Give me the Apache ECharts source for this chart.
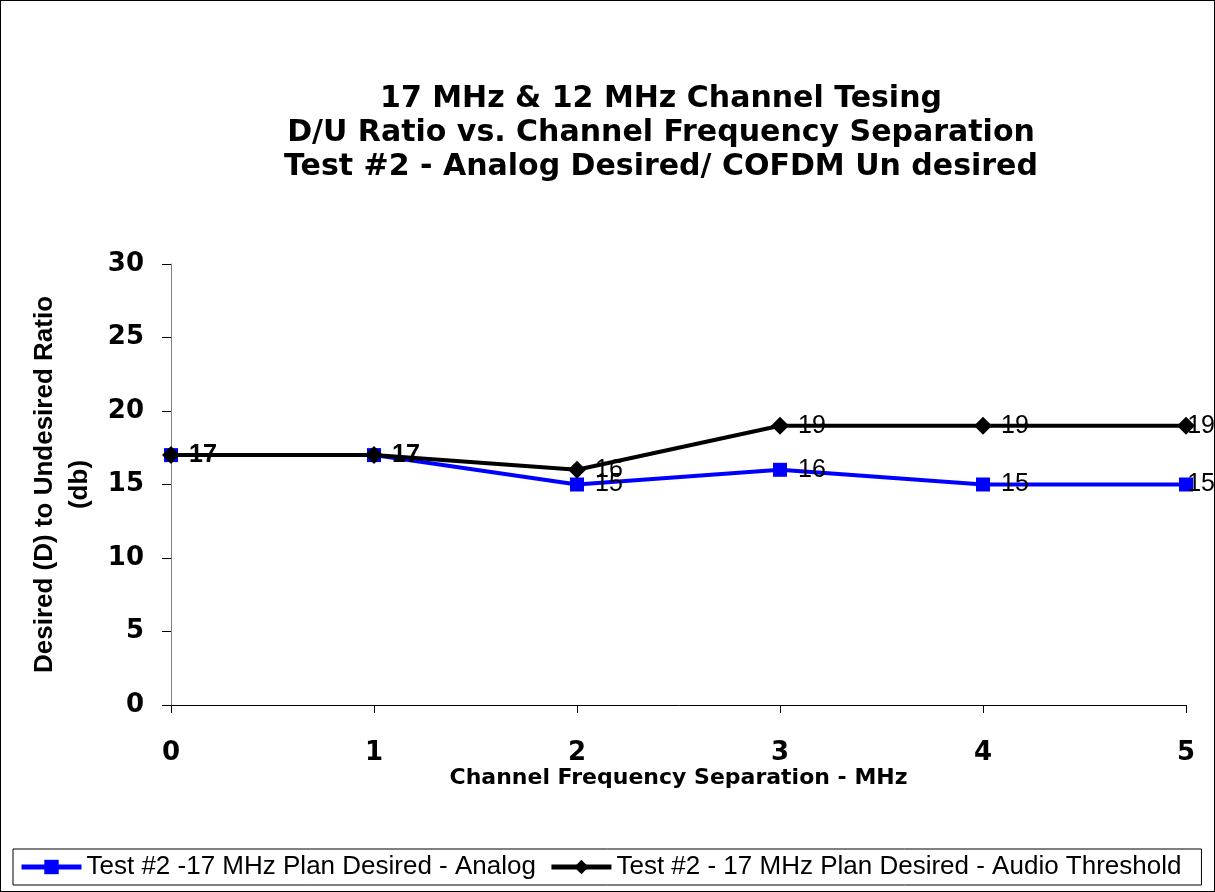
<!DOCTYPE html>
<html><head><meta charset="utf-8">
<script src="https://cdn.jsdelivr.net/npm/echarts@6/dist/echarts.min.js"></script>
<style>html,body{margin:0;padding:0;background:#fff}#c{width:1215px;height:892px;box-sizing:border-box;border:1px solid #000}</style>
</head><body><div id="c"></div>
<script>
const separations = [0, 1, 2, 3, 4, 5];
const analogValues = [17, 17, 15, 16, 15, 15];
const audioValues = [17, 17, 16, 19, 19, 19];
const yTicks = [0, 5, 10, 15, 20, 25, 30];
const seriesNames = ['Test #2 -17 MHz Plan Desired - Analog', 'Test #2 - 17 MHz Plan Desired - Audio Threshold'];
const titleLines = ['17 MHz & 12 MHz Channel Tesing', 'D/U Ratio vs. Channel Frequency Separation', 'Test #2 - Analog Desired/ COFDM Un desired'];

const F = 'Liberation Sans, Arial, sans-serif';
const W = '"DejaVu Sans", Verdana, sans-serif';
const chart = echarts.init(document.getElementById('c'));
function pts(vals){ return separations.map((x,i)=>[x, vals[i]]); }
const fitLabel = p => {
  const r = p.labelRect;
  const over = r.x + r.width - 1214;
  return over > 0 ? {dx: -over} : {};
};
chart.setOption({
  animation:false,
  title:{text:titleLines.join('\n'), left:655, textAlign:'center', top:76,
    textStyle:{fontFamily:W, fontWeight:'bold', fontSize:30, lineHeight:34, color:'#000'}},
  grid:{left:170, right:28, top:263, bottom:186},
  xAxis:{type:'value', min:0, max:5, interval:1,
    name:'Channel Frequency Separation - MHz', nameLocation:'middle', nameGap:58,
    nameTextStyle:{fontFamily:W, fontWeight:'bold', fontSize:22, color:'#000'},
    axisLine:{lineStyle:{color:'#000', width:1}},
    axisTick:{show:true, length:8, lineStyle:{color:'#000'}},
    axisLabel:{fontFamily:W, fontWeight:'bold', fontSize:26, color:'#000', margin:35},
    splitLine:{show:false}},
  yAxis:{type:'value', min:0, max:30, interval:5,
    name:'Desired (D) to Undesired Ratio\n(db)', nameLocation:'middle', nameGap:72, nameRotate:90,
    nameTextStyle:{fontFamily:F, fontWeight:'bold', fontSize:26, lineHeight:35, color:'#000'},
    axisLine:{show:true, lineStyle:{color:'#808080', width:1}},
    axisTick:{show:true, length:9, lineStyle:{color:'#000'}},
    axisLabel:{fontFamily:W, fontWeight:'bold', fontSize:26, color:'#000', margin:27,
      formatter:v=>yTicks.includes(v)?String(v):''},
    splitLine:{show:false}},
  legend:{left:12, top:848, width:1185, orient:'horizontal', itemGap:13, padding:[5,20,5,6],
    borderColor:'#000', borderWidth:1,
    itemWidth:60, itemHeight:18,
    lineStyle:{width:5},
    textStyle:{fontFamily:F, fontSize:26, color:'#000'},
    data:seriesNames},
  series:[
    {name:seriesNames[0], type:'line', symbol:'rect', symbolSize:14,
      itemStyle:{color:'#0000ff'}, lineStyle:{color:'#0000ff', width:4},
      label:{show:true, position:'right', distance:11, fontFamily:F, fontSize:25, color:'#000',
        formatter:p=>p.value[1]},
      labelLayout:fitLabel,
      data:pts(analogValues)},
    {name:seriesNames[1], type:'line', symbol:'diamond', symbolSize:18,
      itemStyle:{color:'#000'}, lineStyle:{color:'#000', width:4},
      label:{show:true, position:'right', distance:9, fontFamily:F, fontSize:25, color:'#000',
        formatter:p=>p.value[1]},
      labelLayout:fitLabel,
      data:pts(audioValues).map((d,i)=>({value:d, label: i<2?{fontWeight:'bold'}:{}}))}
  ]
});
</script></body></html>
